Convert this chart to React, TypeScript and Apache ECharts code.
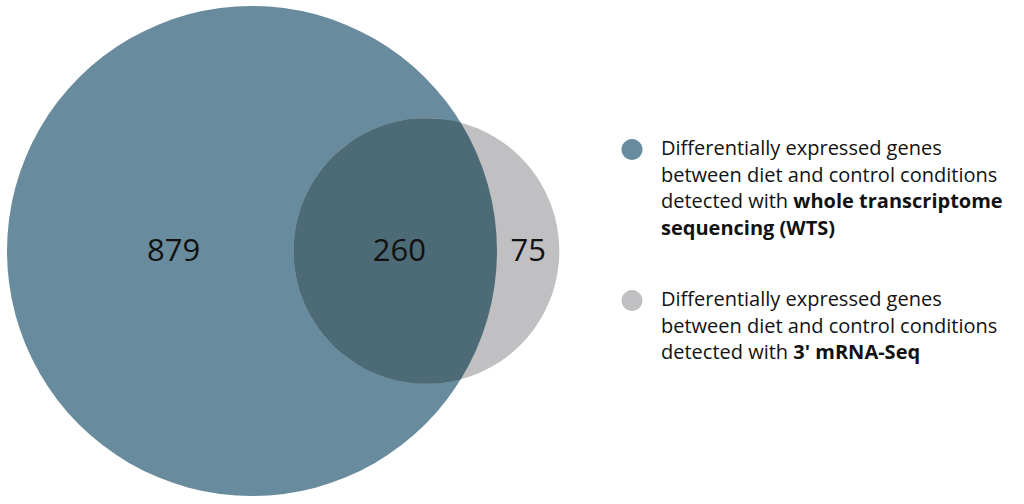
import React, { useEffect, useRef } from "react";
import * as echarts from "echarts";

// ---- data ----
const setNames: string[] = ["WTS", "3' mRNA-Seq"];
const exclusiveCounts: number[] = [879, 75];
const sharedCount: number = 260;
const legendTexts: string[] = [
  "Differentially expressed genes\nbetween diet and control conditions\ndetected with {b|whole transcriptome}\n{b|sequencing (WTS)}",
  "Differentially expressed genes\nbetween diet and control conditions\ndetected with {b|3' mRNA-Seq}",
];

// ---- styles ----
const setColors = ["#688c9e", "#c0c0c2"];
const overlapColor = "#4d6a77";
const textColor = "#121212";
const FONT = "'Open Sans', 'Noto Sans', sans-serif";

// ---- area-proportional geometry (data units: area == count) ----
const totals = [exclusiveCounts[0] + sharedCount, exclusiveCounts[1] + sharedCount];
const radii = totals.map((n) => Math.sqrt(n / Math.PI));

function lensArea(r1: number, r2: number, d: number): number {
  if (d >= r1 + r2) return 0;
  if (d <= Math.abs(r1 - r2)) return Math.PI * Math.min(r1, r2) ** 2;
  const a1 = Math.acos((d * d + r1 * r1 - r2 * r2) / (2 * d * r1));
  const a2 = Math.acos((d * d + r2 * r2 - r1 * r1) / (2 * d * r2));
  const k = Math.sqrt((-d + r1 + r2) * (d + r1 - r2) * (d - r1 + r2) * (d + r1 + r2));
  return r1 * r1 * a1 + r2 * r2 * a2 - 0.5 * k;
}

function solveDistance(r1: number, r2: number, target: number): number {
  let lo = Math.abs(r1 - r2);
  let hi = r1 + r2;
  for (let i = 0; i < 100; i++) {
    const mid = (lo + hi) / 2;
    if (lensArea(r1, r2, mid) > target) lo = mid;
    else hi = mid;
  }
  return (lo + hi) / 2;
}

const [rA, rB] = radii;
const dist = solveDistance(rA, rB, sharedCount);
const centers = [
  [0, 0],
  [dist, 0],
];

// label anchor positions (data units) derived from the geometry
const labelData = [
  [-0.32 * rA, 0, exclusiveCounts[0]],
  [dist - rB + 0.52 * (rA - (dist - rB)), 0, sharedCount],
  [(rA + dist + rB) / 2, 0, exclusiveCounts[1]],
];

function circleRenderer(color: string) {
  return (params: any, api: any) => {
    const c = api.coord([api.value(0), api.value(1)]);
    const r = api.size([api.value(2), 0])[0];
    return {
      type: "circle",
      shape: { cx: c[0], cy: c[1], r },
      style: { fill: color },
    };
  };
}

function lensRenderer(params: any, api: any) {
  const c1 = api.coord([api.value(0), api.value(1)]);
  const R1 = api.size([api.value(2), 0])[0];
  const c2 = api.coord([api.value(3), api.value(4)]);
  const R2 = api.size([api.value(5), 0])[0];
  const dx = c2[0] - c1[0];
  const dy = c2[1] - c1[1];
  const D = Math.hypot(dx, dy);
  const a = (D * D + R1 * R1 - R2 * R2) / (2 * D);
  const h = Math.sqrt(Math.max(R1 * R1 - a * a, 0));
  const bx = c1[0] + (a * dx) / D;
  const by = c1[1] + (a * dy) / D;
  const top = [bx + (h * dy) / D, by - (h * dx) / D];
  const bot = [bx - (h * dy) / D, by + (h * dx) / D];
  const large2 = a > D ? 1 : 0;
  const large1 = a < 0 ? 1 : 0;
  const pathData =
    `M${top[0]} ${top[1]} ` +
    `A${R2} ${R2} 0 ${large2} 0 ${bot[0]} ${bot[1]} ` +
    `A${R1} ${R1} 0 ${large1} 0 ${top[0]} ${top[1]} Z`;
  return {
    type: "path",
    shape: { pathData },
    style: { fill: overlapColor },
  };
}

function labelRenderer(params: any, api: any) {
  const c = api.coord([api.value(0), api.value(1)]);
  return {
    type: "text",
    x: c[0],
    y: c[1] - 2,
    style: {
      text: String(api.value(2)),
      fill: textColor,
      font: `31px ${FONT}`,
      align: "center",
      verticalAlign: "middle",
    },
  };
}

export default function App() {
  const ref = useRef<HTMLDivElement>(null);

  useEffect(() => {
    if (!ref.current) return;
    const chart = echarts.init(ref.current, undefined, { renderer: "svg" });
    const legendY = [134, 285];
    chart.setOption({
      animation: false,
      backgroundColor: "#ffffff",
      grid: { left: 7, top: 6, width: 490, height: 490 },
      xAxis: { type: "value", min: -rA, max: rA, show: false },
      yAxis: { type: "value", min: -rA, max: rA, show: false },
      series: [
        {
          type: "custom",
          name: setNames[0],
          coordinateSystem: "cartesian2d",
          clip: false,
          renderItem: circleRenderer(setColors[0]),
          encode: { x: 0, y: 1 },
          data: [[centers[0][0], centers[0][1], rA]],
          z: 1,
        },
        {
          type: "custom",
          name: setNames[1],
          coordinateSystem: "cartesian2d",
          clip: false,
          renderItem: circleRenderer(setColors[1]),
          encode: { x: 0, y: 1 },
          data: [[centers[1][0], centers[1][1], rB]],
          z: 2,
        },
        {
          type: "custom",
          name: "overlap",
          coordinateSystem: "cartesian2d",
          clip: false,
          renderItem: lensRenderer,
          encode: { x: 0, y: 1 },
          data: [[centers[0][0], centers[0][1], rA, centers[1][0], centers[1][1], rB]],
          z: 3,
        },
        {
          type: "custom",
          name: "labels",
          coordinateSystem: "cartesian2d",
          clip: false,
          renderItem: labelRenderer,
          encode: { x: 0, y: 1 },
          data: labelData,
          z: 4,
        },
      ],
      graphic: setNames.flatMap((name, i) => [
        {
          type: "circle",
          shape: { cx: 632, cy: legendY[i] + 15.5, r: 10.5 },
          style: { fill: setColors[i] },
        },
        {
          type: "text",
          x: 661,
          y: legendY[i],
          style: {
            text: legendTexts[i],
            font: `20px ${FONT}`,
            fill: textColor,
            lineHeight: 26.7,
            verticalAlign: "top",
            align: "left",
            rich: {
              b: {
                font: `bold 20px ${FONT}`,
                fill: textColor,
                lineHeight: 26.7,
              },
            },
          },
        },
      ]),
    });
    return () => chart.dispose();
  }, []);

  return (
    <div
      ref={ref}
      style={{ position: "absolute", left: 0, top: 0, width: 1024, height: 504 }}
    />
  );
}
